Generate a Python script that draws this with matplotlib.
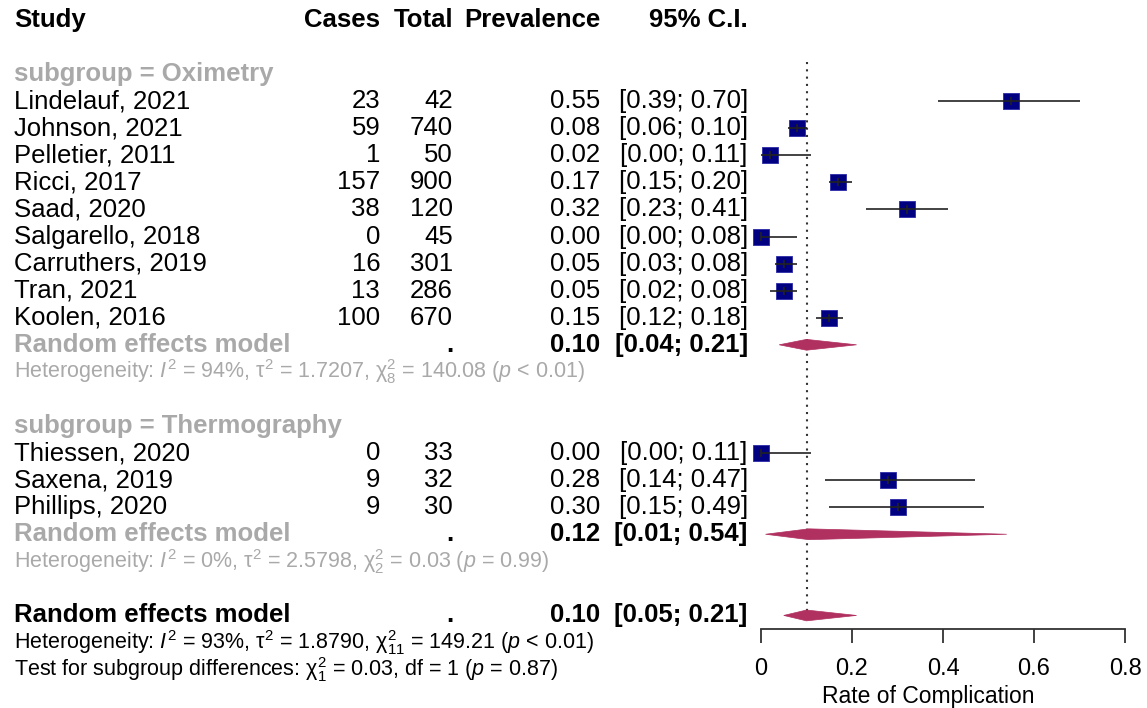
import matplotlib
matplotlib.use("Agg")
import matplotlib.pyplot as plt
import matplotlib.transforms as mtransforms
from matplotlib.patches import Polygon

plt.rcParams['font.family'] = ['Liberation Sans', 'DejaVu Sans']
plt.rcParams['mathtext.fontset'] = 'custom'
plt.rcParams['mathtext.rm'] = 'Liberation Sans'
plt.rcParams['mathtext.it'] = 'Liberation Sans:italic'
plt.rcParams['mathtext.bf'] = 'Liberation Sans:bold'

# ---- data ----
oxi_study = ["Lindelauf, 2021", "Johnson, 2021", "Pelletier, 2011", "Ricci, 2017",
             "Saad, 2020", "Salgarello, 2018", "Carruthers, 2019", "Tran, 2021",
             "Koolen, 2016"]
oxi_cases = [23, 59, 1, 157, 38, 0, 16, 13, 100]
oxi_total = [42, 740, 50, 900, 120, 45, 301, 286, 670]
oxi_prev = [0.55, 0.08, 0.02, 0.17, 0.32, 0.00, 0.05, 0.05, 0.15]
oxi_lo = [0.39, 0.06, 0.00, 0.15, 0.23, 0.00, 0.03, 0.02, 0.12]
oxi_hi = [0.70, 0.10, 0.11, 0.20, 0.41, 0.08, 0.08, 0.08, 0.18]

thermo_study = ["Thiessen, 2020", "Saxena, 2019", "Phillips, 2020"]
thermo_cases = [0, 9, 9]
thermo_total = [33, 32, 30]
thermo_prev = [0.00, 0.28, 0.30]
thermo_lo = [0.00, 0.14, 0.15]
thermo_hi = [0.11, 0.47, 0.49]

# pooled estimates: oximetry, thermography, overall
pooled_prev = [0.10, 0.12, 0.10]
pooled_lo = [0.04, 0.01, 0.05]
pooled_hi = [0.21, 0.54, 0.21]
pooled_mid = [0.10, 0.105, 0.10]   # diamond apex as drawn

het_oxi = r"Heterogeneity: $\mathit{I}^2$ = 94%, $\mathregular{τ}^2$ = 1.7207, $\mathregular{χ}^2_8$ = 140.08 ($\mathit{p}$ < 0.01)"
het_thermo = r"Heterogeneity: $\mathit{I}^2$ = 0%, $\mathregular{τ}^2$ = 2.5798, $\mathregular{χ}^2_2$ = 0.03 ($\mathit{p}$ = 0.99)"
het_all = r"Heterogeneity: $\mathit{I}^2$ = 93%, $\mathregular{τ}^2$ = 1.8790, $\mathregular{χ}^2_{11}$ = 149.21 ($\mathit{p}$ < 0.01)"
test_sub = r"Test for subgroup differences: $\mathregular{χ}^2_1$ = 0.03, df = 1 ($\mathit{p}$ = 0.87)"

xticks = [0, 0.2, 0.4, 0.6, 0.8]
xticklabels = ["0", "0.2", "0.4", "0.6", "0.8"]

GRAY = "#a9a9a9"
NAVY = "#000080"
DIAMOND = "#b03060"
FS = 18.5
FS_HET = 15.5

fig = plt.figure(figsize=(11.47, 7.08), dpi=100)
fig.patch.set_facecolor("white")
# forest panel: x 0..0.8, y in row units (row 0 = header)
ax = fig.add_axes([761 / 1147, 0, 364 / 1147, 1])
ax.set_xlim(0, 0.8)
ax.set_ylim(25.42, -0.74)
ax.patch.set_alpha(0)
for s in ["top", "left", "right"]:
    ax.spines[s].set_visible(False)
ax.spines["bottom"].set_position(("data", 22.5))
ax.spines["bottom"].set_color("#333333")
ax.spines["bottom"].set_linewidth(1.3)
ax.set_yticks([])
ax.set_xticks(xticks)
ax.set_xticklabels(xticklabels, fontsize=17)
ax.tick_params(axis="x", direction="out", length=10, width=1.3, color="#333333", pad=11)
ax.set_xlabel("Rate of Complication", fontsize=16.5)
ax.xaxis.set_label_coords(0.46, 0.016)
ax.xaxis.label.set_va("center")

tr = mtransforms.blended_transform_factory(fig.transFigure, ax.transData)
X_STUDY, X_CASES, X_TOTAL, X_PREV, X_CI = 0.012, 0.3315, 0.395, 0.5235, 0.652


def txt(x, y, s, ha="left", **kw):
    ax.text(x, y, s, transform=tr, ha=ha, va="center", fontsize=kw.pop("fontsize", FS), **kw)


# header
txt(X_STUDY, 0, "Study", weight="bold")
txt(X_CASES, 0, "Cases", ha="right", weight="bold")
txt(X_TOTAL, 0, "Total", ha="right", weight="bold")
txt(X_PREV, 0, "Prevalence", ha="right", weight="bold")
txt(X_CI, 0, "95% C.I.", ha="right", weight="bold")


def study_rows(start, names, cases, totals, prev, lo, hi):
    rows = list(range(start, start + len(names)))
    for r, n, c, t, p, l, h in zip(rows, names, cases, totals, prev, lo, hi):
        txt(X_STUDY, r, n)
        txt(X_CASES, r, str(c), ha="right")
        txt(X_TOTAL, r, str(t), ha="right")
        txt(X_PREV, r, f"{p:.2f}", ha="right")
        txt(X_CI, r, f"[{l:.2f}; {h:.2f}]", ha="right")
    ax.scatter(prev, rows, marker="s", s=135, color=NAVY, edgecolors="#2b2ba8",
               linewidths=0.6, zorder=3, clip_on=False)
    ax.hlines(rows, lo, hi, color="#222222", lw=1.2, zorder=4, clip_on=False)
    ax.vlines(prev, [r - 0.15 for r in rows], [r + 0.15 for r in rows],
              color="#222222", lw=1.2, zorder=4, clip_on=False)


def pooled_row(r, i, color):
    txt(X_STUDY, r, "Random effects model", weight="bold", color=color)
    txt(X_TOTAL, r, ".", ha="right", weight="bold")
    txt(X_PREV, r, f"{pooled_prev[i]:.2f}", ha="right", weight="bold")
    txt(X_CI, r, f"[{pooled_lo[i]:.2f}; {pooled_hi[i]:.2f}]", ha="right", weight="bold")
    hh = 0.2
    poly = Polygon([(pooled_lo[i], r), (pooled_mid[i], r - hh), (pooled_hi[i], r),
                    (pooled_mid[i], r + hh)], closed=True, facecolor=DIAMOND,
                   edgecolor=DIAMOND, lw=0.5, zorder=3, clip_on=False)
    ax.add_patch(poly)


# oximetry subgroup
txt(X_STUDY, 2, "subgroup = Oximetry", weight="bold", color=GRAY)
study_rows(3, oxi_study, oxi_cases, oxi_total, oxi_prev, oxi_lo, oxi_hi)
pooled_row(12, 0, GRAY)
txt(X_STUDY, 13, het_oxi, color=GRAY, fontsize=FS_HET)

# thermography subgroup
txt(X_STUDY, 15, "subgroup = Thermography", weight="bold", color=GRAY)
study_rows(16, thermo_study, thermo_cases, thermo_total, thermo_prev, thermo_lo, thermo_hi)
pooled_row(19, 1, GRAY)
txt(X_STUDY, 20, het_thermo, color=GRAY, fontsize=FS_HET)

# overall
pooled_row(22, 2, "black")
txt(X_STUDY, 23, het_all, fontsize=FS_HET)
txt(X_STUDY, 24, test_sub, fontsize=FS_HET)

# reference line at the overall estimate
ax.vlines(pooled_prev[2], 1.55, 22.25, color="#333333", lw=1.5,
          linestyles=(0, (1, 2.5)), zorder=1, clip_on=False)

fig.savefig("out.png", dpi=100, facecolor="white")
